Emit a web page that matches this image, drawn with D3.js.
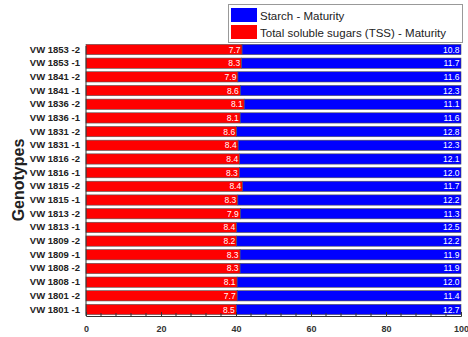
<!DOCTYPE html>
<html><head><meta charset="utf-8">
<script src="https://cdn.jsdelivr.net/npm/d3@7"></script>
<style>body{margin:0;background:#fff}svg{display:block}</style>
</head><body>
<script>
const genotypes = ["VW 1853 -2","VW 1853 -1","VW 1841 -2","VW 1841 -1","VW 1836 -2","VW 1836 -1","VW 1831 -2","VW 1831 -1","VW 1816 -2","VW 1816 -1","VW 1815 -2","VW 1815 -1","VW 1813 -2","VW 1813 -1","VW 1809 -2","VW 1809 -1","VW 1808 -2","VW 1808 -1","VW 1801 -2","VW 1801 -1"];
const tss = [7.7,8.3,7.9,8.6,8.1,8.1,8.6,8.4,8.4,8.3,8.4,8.3,7.9,8.4,8.2,8.3,8.3,8.1,7.7,8.5];
const starch = [10.8,11.7,11.6,12.3,11.1,11.6,12.8,12.3,12.1,12.0,11.7,12.2,11.3,12.5,12.2,11.9,11.9,12.0,11.4,12.7];
const xTicks = [0,20,40,60,80,100];
const seriesNames = ["Starch - Maturity","Total soluble sugars (TSS) - Maturity"];
const seriesColors = ["#0000ff","#ff0000"];

const W = 468, H = 337;
const svg = d3.select("body").append("svg").attr("width", W).attr("height", H);
const x = d3.scaleLinear().domain([0,100]).range([86,461]);
const y = d3.scaleBand().domain(genotypes).range([43,316]).paddingInner(0.25).paddingOuter(0.1);

const rows = genotypes.map((g,i)=>{
  const tot = tss[i]+starch[i];
  return {g, tss:tss[i], starch:starch[i], p:tss[i]/tot*100};
});

const gBars = svg.append("g");
rows.forEach(r=>{
  gBars.append("rect").attr("x", x(0)).attr("y", y(r.g)).attr("width", x(r.p)-x(0)).attr("height", y.bandwidth())
    .attr("fill", seriesColors[1]).attr("stroke", "#555").attr("stroke-width", 0.6);
  gBars.append("rect").attr("x", x(r.p)).attr("y", y(r.g)).attr("width", x(100)-x(r.p)).attr("height", y.bandwidth())
    .attr("fill", seriesColors[0]).attr("stroke", "#555").attr("stroke-width", 0.6);
  gBars.append("text").attr("x", x(r.p)-1.5).attr("y", y(r.g)+y.bandwidth()/2+3)
    .attr("text-anchor","end").attr("font-family","Arial, Liberation Sans, sans-serif").attr("font-size",8.5)
    .attr("fill","#fff").text(r.tss.toFixed(1));
  gBars.append("text").attr("x", x(100)-1.5).attr("y", y(r.g)+y.bandwidth()/2+3)
    .attr("text-anchor","end").attr("font-family","Arial, Liberation Sans, sans-serif").attr("font-size",8.5)
    .attr("fill","#fff").text(r.starch.toFixed(1));
});

// y axis
const yAxis = svg.append("g").attr("transform", `translate(${x(0)},0)`)
  .call(d3.axisLeft(y).tickSize(0).tickPadding(6));
yAxis.select(".domain").attr("stroke","#333").attr("d", `M0,${y.range()[0]+3}V${y.range()[1]}`);
yAxis.selectAll("text").attr("font-family","Arial, Liberation Sans, sans-serif").attr("font-size",9.5)
  .attr("font-weight","bold").attr("fill","#222");

// x axis
const xAxis = svg.append("g").attr("transform", `translate(0,316)`)
  .call(d3.axisBottom(x).tickValues(xTicks).tickSize(-4).tickPadding(10).tickFormat(d3.format("d")));
xAxis.select(".domain").attr("stroke","#333");
xAxis.selectAll(".tick line").attr("stroke","#333");
xAxis.selectAll("text").attr("font-family","Arial, Liberation Sans, sans-serif").attr("font-size",9)
  .attr("font-weight","bold").attr("fill","#333");
const minor = d3.range(0,101,4).filter(v=>v%20!==0);
svg.append("g").selectAll("line").data(minor).join("line")
  .attr("x1",d=>x(d)).attr("x2",d=>x(d)).attr("y1",316).attr("y2",313).attr("stroke","#333");

// y title
svg.append("text").attr("transform","translate(24,180) rotate(-90)").attr("text-anchor","middle")
  .attr("font-family","Arial, Liberation Sans, sans-serif").attr("font-size",16).attr("font-weight","bold")
  .attr("fill","#222").text("Genotypes");

// legend
const lg = svg.append("g");
lg.append("rect").attr("x",228.5).attr("y",4.5).attr("width",234).attr("height",38).attr("fill","#fff").attr("stroke","#999");
seriesNames.forEach((n,i)=>{
  lg.append("rect").attr("x",231).attr("y",8+i*17).attr("width",26).attr("height",14).attr("fill",seriesColors[i]);
  lg.append("text").attr("x",260).attr("y",19.5+i*17).attr("font-family","Arial, Liberation Sans, sans-serif")
    .attr("font-size",11.5).attr("fill","#222").text(n);
});
</script>
</body></html>
